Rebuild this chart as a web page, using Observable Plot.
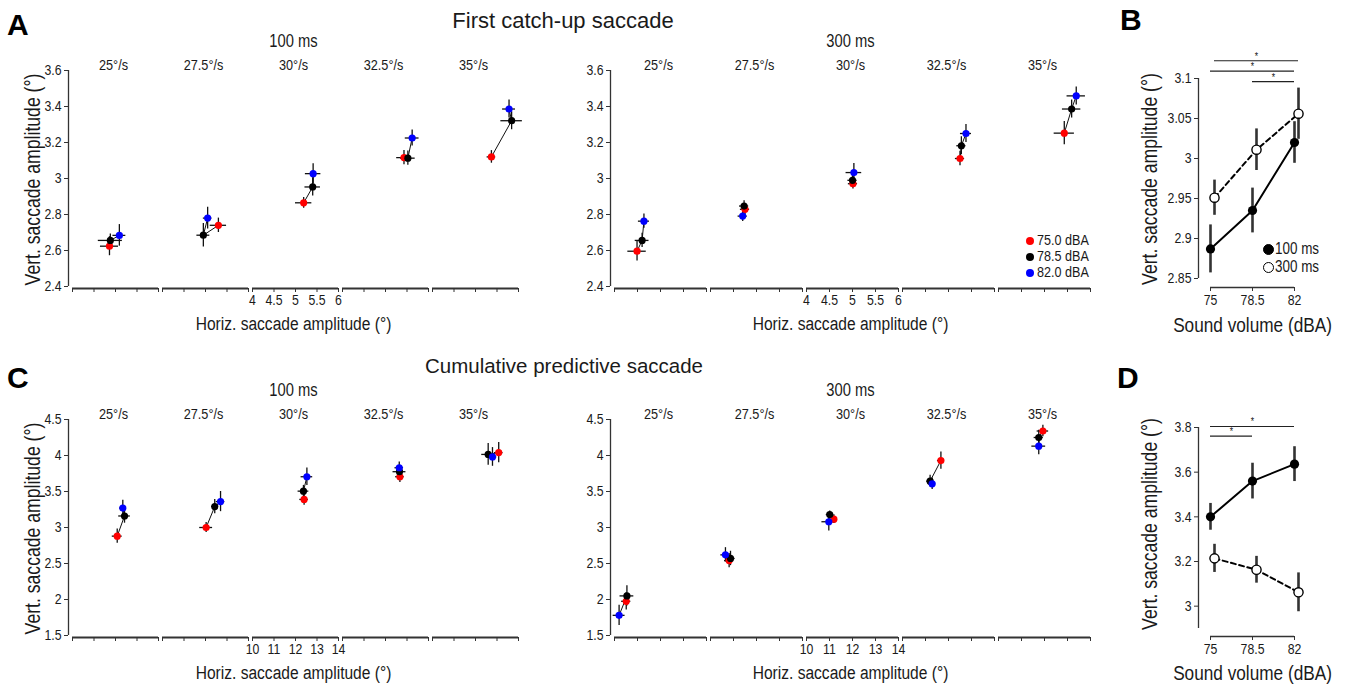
<!DOCTYPE html>
<html>
<head>
<meta charset="utf-8">
<script src="https://cdn.jsdelivr.net/npm/d3@7"></script>
<script src="https://cdn.jsdelivr.net/npm/@observablehq/plot@0.6"></script>
<style>
  body { margin: 0; background: #fff; }
  #fig { position: relative; width: 1345px; height: 687px; overflow: hidden; background: #fff;
         font-family: "Liberation Sans", Arial, sans-serif; color: #1a1a1a; }
  .abs { position: absolute; }
  .letter { font-weight: bold; font-size: 30px; line-height: 1; color: #000; }
  .title { transform: translateX(-50%); white-space: nowrap; line-height: 1; }
  .leg { font-size: 15px; line-height: 16px; white-space: nowrap; }
  .leg .t { display: inline-block; transform: scaleX(0.84); transform-origin: left center; }
  .sw { display: inline-block; width: 8px; height: 8px; border-radius: 50%; margin-right: 3px; vertical-align: 0px; }
  .legB { font-size: 16px; line-height: 18px; white-space: nowrap; }
  .legB .t { display: inline-block; transform: scaleX(0.84); transform-origin: left center; }
  .swB { display: inline-block; width: 11px; height: 11px; border-radius: 50%; margin-right: 1px; border: 1.3px solid #000; box-sizing: border-box; vertical-align: -1px; }
</style>
</head>
<body>
<div id="fig"></div>
<script>
// ---------- data ----------
const speeds = ["25°/s", "27.5°/s", "30°/s", "32.5°/s", "35°/s"];
const volumes = ["75.0 dBA", "78.5 dBA", "82.0 dBA"];
const volumeColors = ["#ff0000", "#000000", "#0000ff"];
const sessions = ["100 ms", "300 ms"];

// Panel A (first catch-up saccade): rows = speeds, columns = volumes (75, 78.5, 82 dBA)
const A100_h    = [[4.86, 4.88, 5.09], [5.30, 4.95, 5.05], [5.19, 5.40, 5.41], [5.43, 5.52, 5.62], [5.37, 5.84, 5.78]];
const A100_v    = [[2.624, 2.656, 2.684], [2.74, 2.685, 2.78], [2.865, 2.953, 3.027], [3.116, 3.113, 3.225], [3.12, 3.321, 3.386]];
const A100_hErr = [[0.21, 0.28, 0.15], [0.19, 0.15, 0.10], [0.19, 0.18, 0.18], [0.17, 0.17, 0.16], [0.10, 0.25, 0.15]];
const A100_vErr = [[0.053, 0.035, 0.06], [0.04, 0.065, 0.06], [0.03, 0.05, 0.055], [0.04, 0.04, 0.045], [0.035, 0.05, 0.05]];

const A300_h    = [[4.49, 4.60, 4.64], [4.75, 4.73, 4.70], [5.01, 5.00, 5.03], [5.25, 5.28, 5.38], [5.43, 5.59, 5.69]];
const A300_v    = [[2.596, 2.656, 2.763], [2.829, 2.847, 2.791], [2.971, 2.99, 3.033], [3.111, 3.182, 3.25], [3.252, 3.386, 3.459]];
const A300_hErr = [[0.20, 0.15, 0.12], [0.10, 0.10, 0.10], [0.10, 0.10, 0.17], [0.10, 0.10, 0.12], [0.22, 0.20, 0.20]];
const A300_vErr = [[0.055, 0.04, 0.04], [0.03, 0.03, 0.03], [0.03, 0.03, 0.05], [0.04, 0.05, 0.05], [0.065, 0.05, 0.05]];

// Panel C (cumulative predictive saccade)
const C100_h    = [[12.08, 12.42, 12.34], [12.03, 12.43, 12.70], [12.40, 12.37, 12.53], [12.67, 12.65, 12.64], [13.08, 12.59, 12.79]];
const C100_v    = [[2.88, 3.16, 3.27], [3.00, 3.29, 3.36], [3.39, 3.505, 3.705], [3.705, 3.775, 3.83], [4.04, 4.015, 3.98]];
const C100_hErr = [[0.23, 0.27, 0.15], [0.30, 0.15, 0.20], [0.20, 0.25, 0.27], [0.20, 0.30, 0.20], [0.20, 0.30, 0.20]];
const C100_vErr = [[0.10, 0.10, 0.11], [0.07, 0.10, 0.14], [0.08, 0.08, 0.12], [0.08, 0.08, 0.08], [0.14, 0.15, 0.13]];

const C300_h    = [[10.51, 10.54, 10.20], [10.81, 10.87, 10.65], [11.19, 11.01, 10.97], [11.67, 11.20, 11.29], [11.93, 11.75, 11.75]];
const C300_v    = [[1.975, 2.05, 1.78], [2.54, 2.57, 2.62], [3.116, 3.18, 3.08], [3.93, 3.644, 3.607], [4.34, 4.25, 4.13]];
const C300_hErr = [[0.20, 0.30, 0.26], [0.20, 0.20, 0.20], [0.15, 0.15, 0.30], [0.15, 0.15, 0.15], [0.25, 0.20, 0.30]];
const C300_vErr = [[0.12, 0.14, 0.14], [0.10, 0.10, 0.10], [0.06, 0.05, 0.13], [0.12, 0.08, 0.08], [0.08, 0.10, 0.12]];

// Panels B and D: mean vertical amplitude by sound volume
const soundVolumes = [75, 78.5, 82];
const B100 = [2.887, 2.935, 3.02];   const B100Err = [0.030, 0.028, 0.026];
const B300 = [2.951, 3.011, 3.056];  const B300Err = [0.022, 0.026, 0.032];
const D100 = [3.40, 3.56, 3.636];    const D100Err = [0.06, 0.08, 0.078];
const D300 = [3.214, 3.163, 3.062];  const D300Err = [0.063, 0.06, 0.087];

// significance comparisons: [from, to, session]
const sigB = [[75, 82, "300 ms"], [75, 82, "100 ms"], [78.5, 82, "100 ms"]];
const sigD = [[75, 82, "100 ms"], [75, 78.5, "100 ms"]];

// tick values
const xTicksA = [4, 4.5, 5, 5.5, 6];
const xTicksC = [10, 11, 12, 13, 14];
const yTicksA = [2.4, 2.6, 2.8, 3, 3.2, 3.4, 3.6];
const yTicksC = [1.5, 2, 2.5, 3, 3.5, 4, 4.5];
const yTicksB = [2.85, 2.9, 2.95, 3, 3.05, 3.1];
const yTicksD = [3, 3.2, 3.4, 3.6, 3.8];

// ---------- helpers ----------
const FONT = '"Liberation Sans", Arial, sans-serif';
const AX = "#333";
const fmt = d => String(+d.toFixed(2));
const xTitle = "Horiz. saccade amplitude (°)";
const yTitle = "Vert. saccade amplitude (°)";
const CONDENSE = 0.82;

function rows(h, v, he, ve) {
  return speeds.flatMap((s, i) => volumes.map((vol, j) => ({speed: s, vol, h: h[i][j], v: v[i][j], he: he[i][j], ve: ve[i][j]})));
}
function series(vals, errs, session) {
  return soundVolumes.map((x, i) => ({x, y: vals[i], e: errs[i], session}));
}

// narrow the glyphs of every SVG text around its own anchor (condensed type face look)
function condense(svg, k) {
  svg.querySelectorAll("text").forEach(el => {
    let t = el.getAttribute("transform") || "";
    const x = el.getAttribute("x");
    if (x != null && !isNaN(+x)) { el.removeAttribute("x"); t += ` translate(${+x},0)`; }
    el.setAttribute("transform", (t + ` scale(${k},1)`).trim());
  });
  return svg;
}

const fig = document.getElementById("fig");
function place(node, left, top) {
  const d = document.createElement("div");
  d.className = "abs";
  d.style.left = left + "px";
  d.style.top = top + "px";
  d.appendChild(node);
  fig.appendChild(d);
  return d;
}
function html(cls, text, left, top, size) {
  const d = document.createElement("div");
  d.className = "abs " + cls;
  d.style.left = left + "px";
  d.style.top = top + "px";
  if (size) d.style.fontSize = size + "px";
  d.innerHTML = text;
  fig.appendChild(d);
  return d;
}

function scatterPanel({data, xDomain, xTicks, yDomain, yTicks, width, height, marginLeft, marginRight, marginTop, marginBottom, session, withYTitle}) {
  const marks = [
    Plot.axisFx({anchor: "top", tickSize: 0, tickPadding: 1, fontSize: 15.5, label: null}),
    Plot.axisY({ticks: yTicks, tickSize: 4, tickPadding: 3, tickFormat: fmt, fontSize: 15, label: null, stroke: AX}),
    Plot.ruleX([xDomain[0]], {x: d => d, fx: () => speeds[0], y1: yDomain[0], y2: yDomain[1], dx: -4, stroke: AX, strokeWidth: 1.3}),
    Plot.ruleY([yDomain[0]], {y: d => d, x1: xDomain[0], x2: xDomain[1], dy: 2, stroke: AX, strokeWidth: 1.8}),
    Plot.axisX({ticks: xTicks, tickSize: 4, tickFormat: () => "", label: null, stroke: AX}),
    Plot.text(xTicks, {x: d => d, fx: () => speeds[2], text: d => fmt(d), frameAnchor: "bottom", lineAnchor: "middle", dy: 12, fontSize: 15}),
    Plot.text([xTitle], {fx: () => speeds[2], text: d => d, frameAnchor: "bottom", lineAnchor: "middle", textAnchor: "middle", dy: 35, fontSize: 19}),
    Plot.text([session], {fx: () => speeds[2], text: d => d, frameAnchor: "top", lineAnchor: "middle", textAnchor: "middle", dy: -29, fontSize: 18}),
    Plot.line(data, {fx: "speed", x: "h", y: "v", stroke: "#111", strokeWidth: 1}),
    Plot.ruleY(data, {fx: "speed", y: "v", x1: d => d.h - d.he, x2: d => d.h + d.he, stroke: "#111", strokeWidth: 1.3}),
    Plot.ruleX(data, {fx: "speed", x: "h", y1: d => d.v - d.ve, y2: d => d.v + d.ve, stroke: "#111", strokeWidth: 1.3}),
    Plot.dot(data, {fx: "speed", x: "h", y: "v", fill: "vol", r: 3.6})
  ];
  if (withYTitle) marks.push(Plot.text([yTitle], {fx: () => speeds[0], text: d => d, frameAnchor: "left", textAnchor: "middle", lineAnchor: "middle", rotate: -90, dx: -35, fontSize: 21.5}));
  return condense(Plot.plot({
    width, height, marginLeft, marginRight, marginTop, marginBottom,
    style: {fontFamily: FONT, fontSize: "15px", color: "#1a1a1a", background: "transparent", overflow: "visible"},
    fx: {domain: speeds, paddingInner: 0, paddingOuter: 0},
    x: {domain: xDomain, insetLeft: 4, insetRight: 0},
    y: {domain: yDomain, insetBottom: 2},
    color: {domain: volumes, range: volumeColors},
    marks
  }), CONDENSE);
}

function summaryPanel({s100, s300, sig, sigY, yDomain, yTicks, insetBottom, width, height, marginLeft, marginRight, marginTop, marginBottom, titleDy, yTitleDy}) {
  const sigRows = sig.map(([from, to, session], level) => ({from, to, session, level}));
  const sig100 = sigRows.filter(d => d.session === sessions[0]);
  const sig300 = sigRows.filter(d => d.session === sessions[1]);
  const off = 4;
  const star = {x: d => (d.from + d.to) / 2, y: d => sigY(d.level), text: () => "*", dy: -1, fontSize: 10.5};
  return condense(Plot.plot({
    width, height, marginLeft, marginRight, marginTop, marginBottom,
    style: {fontFamily: FONT, fontSize: "15px", color: "#1a1a1a", background: "transparent", overflow: "visible"},
    x: {domain: [75, 82], insetLeft: 12, insetRight: 0},
    y: {domain: yDomain, insetBottom},
    marks: [
      Plot.axisY({ticks: yTicks, tickSize: 4, tickPadding: 3, tickFormat: fmt, fontSize: 15, label: null, stroke: AX}),
      Plot.ruleX([75], {x: d => d, y1: yDomain[0], y2: yDomain[1], dx: -12, stroke: AX, strokeWidth: 1.3}),
      Plot.ruleY([yDomain[0]], {y: d => d, x1: 75, x2: 82, dy: insetBottom, stroke: AX, strokeWidth: 1.3}),
      Plot.axisX({ticks: soundVolumes, tickSize: 4, tickPadding: 3, tickFormat: fmt, fontSize: 15, label: null, stroke: AX}),
      Plot.text(["Sound volume (dBA)"], {text: d => d, frameAnchor: "bottom", lineAnchor: "middle", textAnchor: "middle", dy: titleDy, dx: 6, fontSize: 21}),
      Plot.text([yTitle], {text: d => d, frameAnchor: "left", textAnchor: "middle", lineAnchor: "middle", rotate: -90, dx: -48, dy: yTitleDy, fontSize: 21.5}),
      // significance bars and stars
      Plot.ruleY(sig100, {y: d => sigY(d.level), x1: "from", x2: "to", stroke: "#222", strokeWidth: 1.2}),
      Plot.ruleY(sig300, {y: d => sigY(d.level), x1: "from", x2: "to", dx: off, stroke: "#222", strokeWidth: 1.2}),
      Plot.text(sig100, {...star, lineAnchor: "bottom"}),
      Plot.text(sig300, {...star, lineAnchor: "bottom", dx: off}),
      // error bars
      Plot.ruleX(s100, {x: "x", y1: d => d.y - d.e, y2: d => d.y + d.e, stroke: "#333", strokeWidth: 2.6}),
      Plot.ruleX(s300, {x: "x", y1: d => d.y - d.e, y2: d => d.y + d.e, dx: off, stroke: "#333", strokeWidth: 2.6}),
      // lines
      Plot.line(s100, {x: "x", y: "y", stroke: "#000", strokeWidth: 2}),
      Plot.line(s300, {x: "x", y: "y", dx: off, stroke: "#000", strokeWidth: 2, strokeDasharray: "5,3.5"}),
      // points
      Plot.dot(s100, {x: "x", y: "y", fill: "#000", r: 4.6}),
      Plot.dot(s300, {x: "x", y: "y", dx: off, fill: "#fff", stroke: "#000", strokeWidth: 1.4, r: 4.6})
    ]
  }), CONDENSE);
}

// ---------- panels ----------
const A100 = rows(A100_h, A100_v, A100_hErr, A100_vErr);
const A300 = rows(A300_h, A300_v, A300_hErr, A300_vErr);
const C100 = rows(C100_h, C100_v, C100_hErr, C100_vErr);
const C300 = rows(C300_h, C300_v, C300_hErr, C300_vErr);

place(scatterPanel({data: A100, xDomain: [4, 6], xTicks: xTicksA, yDomain: [2.4, 3.6], yTicks: yTicksA,
  width: 530, height: 340, marginLeft: 68, marginRight: 12, marginTop: 70, marginBottom: 52, session: sessions[0], withYTitle: true}), 0, 0);
place(scatterPanel({data: A300, xDomain: [4, 6], xTicks: xTicksA, yDomain: [2.4, 3.6], yTicks: yTicksA,
  width: 545, height: 340, marginLeft: 48, marginRight: 13, marginTop: 70, marginBottom: 52, session: sessions[1], withYTitle: false}), 560, 0);
place(scatterPanel({data: C100, xDomain: [10, 14], xTicks: xTicksC, yDomain: [1.5, 4.5], yTicks: yTicksC,
  width: 530, height: 347, marginLeft: 68, marginRight: 12, marginTop: 79, marginBottom: 50, session: sessions[0], withYTitle: true}), 0, 340);
place(scatterPanel({data: C300, xDomain: [10, 14], xTicks: xTicksC, yDomain: [1.5, 4.5], yTicks: yTicksC,
  width: 545, height: 347, marginLeft: 48, marginRight: 13, marginTop: 79, marginBottom: 50, session: sessions[1], withYTitle: false}), 560, 340);

place(summaryPanel({s100: series(B100, B100Err, sessions[0]), s300: series(B300, B300Err, sessions[1]),
  sig: sigB, sigY: level => 3.1 + 0.0222 - level * 0.013, yDomain: [2.85, 3.1], yTicks: yTicksB, insetBottom: 9,
  width: 215, height: 340, marginLeft: 68, marginRight: 51, marginTop: 78, marginBottom: 53, titleDy: 38, yTitleDy: -4}), 1130, 0);
place(summaryPanel({s100: series(D100, D100Err, sessions[0]), s300: series(D300, D300Err, sessions[1]),
  sig: sigD, sigY: level => 3.8 + 0.0045 - level * 0.0435, yDomain: [2.9, 3.8], yTicks: yTicksD, insetBottom: 8,
  width: 215, height: 347, marginLeft: 68, marginRight: 51, marginTop: 87, marginBottom: 51, titleDy: 37, yTitleDy: -8}), 1130, 340);

// ---------- titles, letters, legends ----------
html("title", "First catch-up saccade", 563, 10, 22);
html("title", "Cumulative predictive saccade", 564, 356, 20.5);
html("letter", "A", 7, 10);
html("letter", "B", 1120, 5);
html("letter", "C", 7, 363);
html("letter", "D", 1117, 363);

html("leg", volumes.map((v, i) => `<div><span class="sw" style="background:${volumeColors[i]}"></span><span class="t">${v}</span></div>`).join(""), 1026, 232);
html("legB", sessions.map((s, i) => `<div><span class="swB" style="background:${i === 0 ? "#000" : "#fff"}"></span><span class="t">${s}</span></div>`).join(""), 1263, 240);
</script>
</body>
</html>
